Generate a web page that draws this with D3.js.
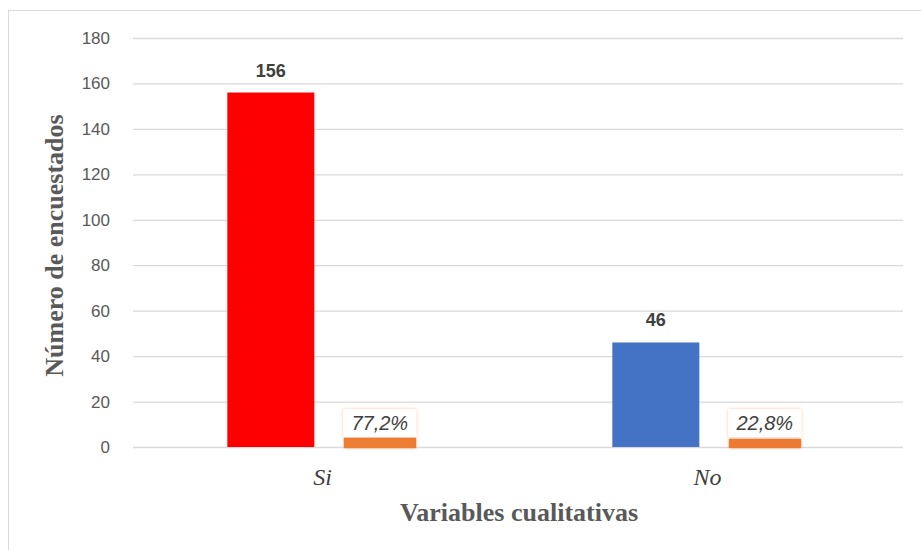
<!DOCTYPE html>
<html>
<head>
<meta charset="utf-8">
<script src="https://cdn.jsdelivr.net/npm/d3@7"></script>
<style>
  html, body { margin: 0; padding: 0; background: #fff; }
  svg { display: block; }
</style>
</head>
<body>
<svg id="chart" width="921" height="550"></svg>
<script>
// Survey answers: respondent counts and their share of the total
const categories = ["Si", "No"];
const counts = [156, 46];
const shares = [0.772, 0.228];
const yTicks = [0, 20, 40, 60, 80, 100, 120, 140, 160, 180];

const W = 921, H = 550;
const plot = { left: 133, right: 903, top: 38, bottom: 447 };

const svg = d3.select("#chart");
const defs = svg.append("defs");

// Soft orange glow around the small share bars
const glow = defs.append("filter").attr("id", "glow")
  .attr("filterUnits", "userSpaceOnUse")
  .attr("x", 0).attr("y", 380).attr("width", W).attr("height", 100);
glow.append("feMorphology").attr("in", "SourceGraphic").attr("operator", "dilate")
  .attr("radius", "0.5 4.2").attr("result", "thick");
const solid = glow.append("feComponentTransfer").attr("in", "thick").attr("result", "solid");
solid.append("feFuncA").attr("type", "linear").attr("slope", 6);
glow.append("feOffset").attr("in", "solid").attr("dy", -3).attr("result", "up");
glow.append("feGaussianBlur").attr("in", "up").attr("stdDeviation", 1.3).attr("result", "soft");
const gm = glow.append("feMerge");
gm.append("feMergeNode").attr("in", "soft");
gm.append("feMergeNode").attr("in", "up");

// Faint orange halo around the share label boxes
const halo = defs.append("filter").attr("id", "halo")
  .attr("x", "-20%").attr("y", "-40%").attr("width", "140%").attr("height", "180%");
halo.append("feDropShadow").attr("dx", 0).attr("dy", 0).attr("stdDeviation", 1.6)
  .attr("flood-color", "#ED7D31").attr("flood-opacity", 0.45);

// Chart frame
svg.append("rect").attr("x", 8.5).attr("y", 10.5).attr("width", W).attr("height", H)
  .attr("fill", "#fff").attr("stroke", "#d9d9d9").attr("stroke-width", 1);

const x = d3.scaleBand().domain(categories).range([plot.left, plot.right]);
const y = d3.scaleLinear().domain([0, 180]).range([plot.bottom, plot.top]);
const bw = x.bandwidth();

// Horizontal gridlines and y tick labels
const yAxis = d3.axisLeft(y).tickValues(yTicks).tickSize(-(plot.right - plot.left)).tickPadding(23);
const gy = svg.append("g").attr("transform", `translate(${plot.left},0)`).call(yAxis);
gy.select(".domain").remove();
gy.selectAll(".tick line").attr("stroke", "#d9d9d9").attr("stroke-width", 1.3);
gy.selectAll(".tick text").attr("fill", "#595959")
  .style("font-family", "'Liberation Sans', Arial, sans-serif").style("font-size", "17px");

// Category axis labels
const xAxis = d3.axisBottom(x).tickSize(0).tickPadding(21);
const gx = svg.append("g").attr("transform", `translate(-3,${plot.bottom})`).call(xAxis);
gx.select(".domain").remove();
gx.selectAll(".tick text").attr("fill", "#404040")
  .style("font-family", "'Liberation Serif', 'Times New Roman', serif")
  .style("font-size", "24px").style("font-style", "italic");

const barColors = d3.scaleOrdinal().domain(categories).range(["#FF0000", "#4472C4"]);
const countX = d => x(d) + bw * 0.245;
const countW = bw * 0.226;
const shareX = d => x(d) + bw * 0.551;
const shareW = bw * 0.18;

const rows = categories.map((c, i) => ({ c, count: counts[i], share: shares[i] }));

// Count bars
svg.append("g").selectAll("rect").data(rows).join("rect")
  .attr("x", d => countX(d.c)).attr("width", countW)
  .attr("y", d => y(d.count)).attr("height", d => y(0) - y(d.count))
  .attr("fill", d => barColors(d.c));

// Count labels
svg.append("g").selectAll("text").data(rows).join("text")
  .attr("x", d => countX(d.c) + countW / 2).attr("y", d => y(d.count) - 16)
  .attr("text-anchor", "middle").attr("fill", "#404040")
  .style("font-family", "'Liberation Sans', Arial, sans-serif")
  .style("font-size", "18px").style("font-weight", "bold")
  .text(d => d.count);

// Share bars (plotted on the same axis, so they are very thin)
svg.append("g").attr("filter", "url(#glow)").selectAll("rect").data(rows).join("rect")
  .attr("x", d => shareX(d.c)).attr("width", shareW)
  .attr("y", d => y(d.share)).attr("height", d => y(0) - y(d.share))
  .attr("fill", "#ED7D31");

// Share labels in white boxes
const fmt = v => d3.format(".1%")(v).replace(".", ",");
const lab = svg.append("g").selectAll("g").data(rows).join("g");
lab.append("rect")
  .attr("x", d => shareX(d.c) - 2).attr("width", shareW + 4)
  .attr("y", d => y(0) - 38).attr("height", 28)
  .attr("fill", "#fff").attr("filter", "url(#halo)");
lab.append("text")
  .attr("x", d => shareX(d.c) + shareW / 2).attr("y", d => y(0) - 17)
  .attr("text-anchor", "middle").attr("fill", "#404040")
  .style("font-family", "'Liberation Sans', Arial, sans-serif")
  .style("font-size", "20px").style("font-style", "italic")
  .text(d => fmt(d.share));

// Axis titles
svg.append("text")
  .attr("transform", `translate(63,${(plot.top + plot.bottom) / 2 + 3}) rotate(-90)`)
  .attr("text-anchor", "middle").attr("fill", "#595959")
  .style("font-family", "'Liberation Serif', 'Times New Roman', serif")
  .style("font-size", "26px").style("font-weight", "bold")
  .text("Número de encuestados");

svg.append("text")
  .attr("x", 519).attr("y", 521)
  .attr("text-anchor", "middle").attr("fill", "#595959")
  .style("font-family", "'Liberation Serif', 'Times New Roman', serif")
  .style("font-size", "26px").style("font-weight", "bold")
  .text("Variables cualitativas");
</script>
</body>
</html>
